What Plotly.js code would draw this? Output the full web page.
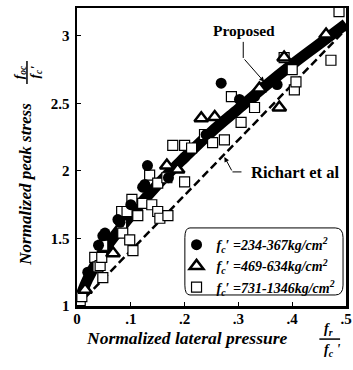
<!DOCTYPE html>
<html><head><meta charset="utf-8">
<script src="https://cdn.plot.ly/plotly-3.0.1.min.js"></script>
<style>body{margin:0;background:#fff}#c{width:353px;height:370px}</style>
</head><body><div id="c"></div>
<script>
// Series 1: fc' = 234-367 kg/cm2 (filled circles)
const s1x = [0.02, 0.04, 0.048, 0.052, 0.076, 0.08, 0.10, 0.122, 0.126, 0.131, 0.17, 0.20, 0.24, 0.268, 0.302, 0.33, 0.372];
const s1y = [1.25, 1.45, 1.52, 1.54, 1.64, 1.62, 1.75, 1.88, 1.90, 2.04, 1.95, 2.10, 2.27, 2.65, 2.53, 2.55, 2.64];
// Series 2: fc' = 469-634 kg/cm2 (open triangles)
const s2x = [0.015, 0.067, 0.167, 0.187, 0.231, 0.256, 0.339, 0.376, 0.385, 0.463];
const s2y = [1.12, 1.39, 2.04, 2.01, 2.39, 2.40, 2.61, 2.47, 2.84, 3.01];
// Series 3: fc' = 731-1346 kg/cm2 (open squares)
const s3x = [0.006, 0.009, 0.033, 0.039, 0.043, 0.046, 0.048, 0.048, 0.083, 0.083, 0.085, 0.093, 0.098, 0.102, 0.104, 0.113, 0.122, 0.135, 0.139, 0.15, 0.15, 0.154, 0.167, 0.169, 0.178, 0.20, 0.213, 0.20, 0.237, 0.252, 0.274, 0.287, 0.305, 0.33, 0.385, 0.40, 0.404, 0.407, 0.472, 0.487];
const s3y = [1.04, 1.07, 1.36, 1.29, 1.30, 1.36, 1.21, 1.45, 1.60, 1.70, 1.54, 1.70, 1.49, 1.79, 1.41, 1.67, 1.76, 1.97, 1.75, 1.91, 1.70, 1.65, 1.95, 1.67, 2.19, 2.19, 2.17, 1.92, 2.27, 2.21, 2.23, 2.55, 2.36, 2.47, 2.84, 2.75, 2.60, 2.66, 2.82, 3.18];
// Proposed curve
const propX = [0, 0.02, 0.05, 0.10, 0.15, 0.20, 0.25, 0.30, 0.35, 0.40, 0.45, 0.50];
const propY = [1, 1.20, 1.41, 1.67, 1.90, 2.10, 2.29, 2.46, 2.63, 2.79, 2.94, 3.09];
// Richart et al line
const richX = [0, 0.5];
const richY = [1, 3.05];
// Ticks
const xTickVals = [0, 0.1, 0.2, 0.3, 0.4, 0.5];
const xTickText = ['0', '.1', '.2', '.3', '.4', '.5'];
const yTickVals = [1, 1.5, 2, 2.5, 3];
const yTickText = ['1', '1.5', '2', '2.5', '3'];
const legendNames = [
  '<b><i>f<sub>c</sub>′ =234-367kg/cm<sup>2</sup></i></b>',
  '<b><i>f<sub>c</sub>′ =469-634kg/cm<sup>2</sup></i></b>',
  '<b><i>f<sub>c</sub>′ =731-1346kg/cm<sup>2</sup></i></b>'
];

const F = 'Liberation Serif, Times New Roman, serif';
const traces = [
  {x: richX, y: richY, mode: 'lines', line: {color: '#000', width: 2.5, dash: '8px,4px'}, showlegend: false, hoverinfo: 'skip'},
  {x: propX, y: propY, mode: 'lines', line: {color: '#000', width: 11, shape: 'spline'}, showlegend: false, hoverinfo: 'skip'},
  {x: s3x, y: s3y, mode: 'markers', name: legendNames[2], legendrank: 3,
   marker: {symbol: 'square', size: 10, color: '#fff', line: {color: '#000', width: 1.2}}},
  {x: s2x, y: s2y, mode: 'markers', name: legendNames[1], legendrank: 2,
   marker: {symbol: 'triangle-up', size: 12, color: '#fff', line: {color: '#000', width: 2.5}}},
  {x: s1x, y: s1y, mode: 'markers', name: legendNames[0], legendrank: 1,
   marker: {symbol: 'circle', size: 11, color: '#000', line: {color: '#000', width: 0}}}
];

const A = (o) => Object.assign({showarrow: false, xanchor: 'center', yanchor: 'middle'}, o);

const layout = {
  width: 353, height: 370,
  margin: {l: 77, r: 7, t: 8, b: 64},
  paper_bgcolor: '#fff', plot_bgcolor: '#fff',
  font: {family: F, color: '#000'},
  xaxis: {range: [0, 0.5], tickvals: xTickVals, ticktext: xTickText, showgrid: false, zeroline: false,
    showline: true, linecolor: '#000', linewidth: 2.5, mirror: true, ticks: 'inside', ticklen: 4, tickcolor: '#000',
    ticklabelstandoff: -3,
    tickfont: {family: F, size: 15, color: '#000', weight: 'bold'}},
  yaxis: {range: [1, 3.207], tickvals: yTickVals, ticktext: yTickText, showgrid: false, zeroline: false,
    showline: true, linecolor: '#000', linewidth: 2.5, mirror: true, ticks: 'inside', ticklen: 4, tickcolor: '#000',
    ticklabelstandoff: 2,
    tickfont: {family: F, size: 15, color: '#000', weight: 'bold'}},
  showlegend: true,
  legend: {x: 0.37, y: 0.258, xanchor: 'left', yanchor: 'top', bgcolor: 'rgba(0,0,0,0)', borderwidth: 0,
    font: {family: F, size: 14, color: '#000'}, itemwidth: 30, tracegroupgap: 0, traceorder: 'normal'},
  shapes: [
    {type: 'path', xref: 'paper', yref: 'paper', layer: 'above',
     path: 'M 0.42 0.037 L 0.96 0.037 Q 0.989 0.037 0.989 0.07 L 0.989 0.23 Q 0.989 0.262 0.96 0.262 L 0.42 0.262 Q 0.401 0.262 0.401 0.23 L 0.401 0.07 Q 0.401 0.037 0.42 0.037 Z',
     line: {color: '#000', width: 1}, fillcolor: 'rgba(0,0,0,0)'},
    {type: 'line', xref: 'x', yref: 'y', x0: 0.309, y0: 2.956, x1: 0.309, y1: 2.837, line: {color: '#000', width: 1}},
    {type: 'line', xref: 'x', yref: 'y', x0: 0.289, y0: 1.993, x1: 0.317, y1: 1.993, line: {color: '#000', width: 1, dash: 'dash'}},
    {type: 'line', xref: 'paper', yref: 'paper', x0: -0.186, y0: 0.745, x1: -0.186, y1: 0.822, line: {color: '#000', width: 1.5}},
    {type: 'line', xref: 'paper', yref: 'paper', x0: 0.901, y0: -0.111, x1: 0.978, y1: -0.111, line: {color: '#000', width: 1.5}}
  ],
  annotations: [
    A({x: 0.311, y: 3.044, xref: 'x', yref: 'y', text: '<b>Proposed</b>', font: {family: F, size: 15.5}}),
    {x: 0.348, y: 2.66, xref: 'x', yref: 'y', ax: 0.309, ay: 2.837, axref: 'x', ayref: 'y', text: '', showarrow: true, arrowhead: 2, arrowsize: 1, arrowwidth: 1, arrowcolor: '#000'},
    {x: 0.274, y: 2.104, xref: 'x', yref: 'y', ax: 0.289, ay: 1.993, axref: 'x', ayref: 'y', text: '', showarrow: true, arrowhead: 2, arrowsize: 1, arrowwidth: 1, arrowcolor: '#000'},
    A({x: 0.32, y: 1.99, xref: 'x', yref: 'y', xanchor: 'left', text: '<b>Richart et al</b>', font: {family: F, size: 16.5}}),
    A({x: 0.409, y: -0.107, xref: 'paper', yref: 'paper', text: '<b><i>Normalized lateral pressure</i></b>', font: {family: F, size: 17.5}}),
    A({x: 0.935, y: -0.078, xref: 'paper', yref: 'paper', text: '<b><i>f<sub>r</sub></i></b>', font: {family: F, size: 14}}),
    A({x: 0.95, y: -0.148, xref: 'paper', yref: 'paper', text: '<b><i>f<sub>c</sub> \'</i></b>', font: {family: F, size: 14}}),
    A({x: -0.19, y: 0.41, xref: 'paper', yref: 'paper', text: '<b><i>Normalized peak stress</i></b>', textangle: -90, font: {family: F, size: 17}}),
    A({x: -0.215, y: 0.785, xref: 'paper', yref: 'paper', text: '<b><i>f<sub>oc</sub></i></b>', textangle: -90, font: {family: F, size: 13.5}}),
    A({x: -0.155, y: 0.785, xref: 'paper', yref: 'paper', text: '<b><i>f<sub>c</sub>\'</i></b>', textangle: -90, font: {family: F, size: 13.5}})
  ]
};
Plotly.newPlot('c', traces, layout, {displayModeBar: false, staticPlot: true});
</script></body></html>
